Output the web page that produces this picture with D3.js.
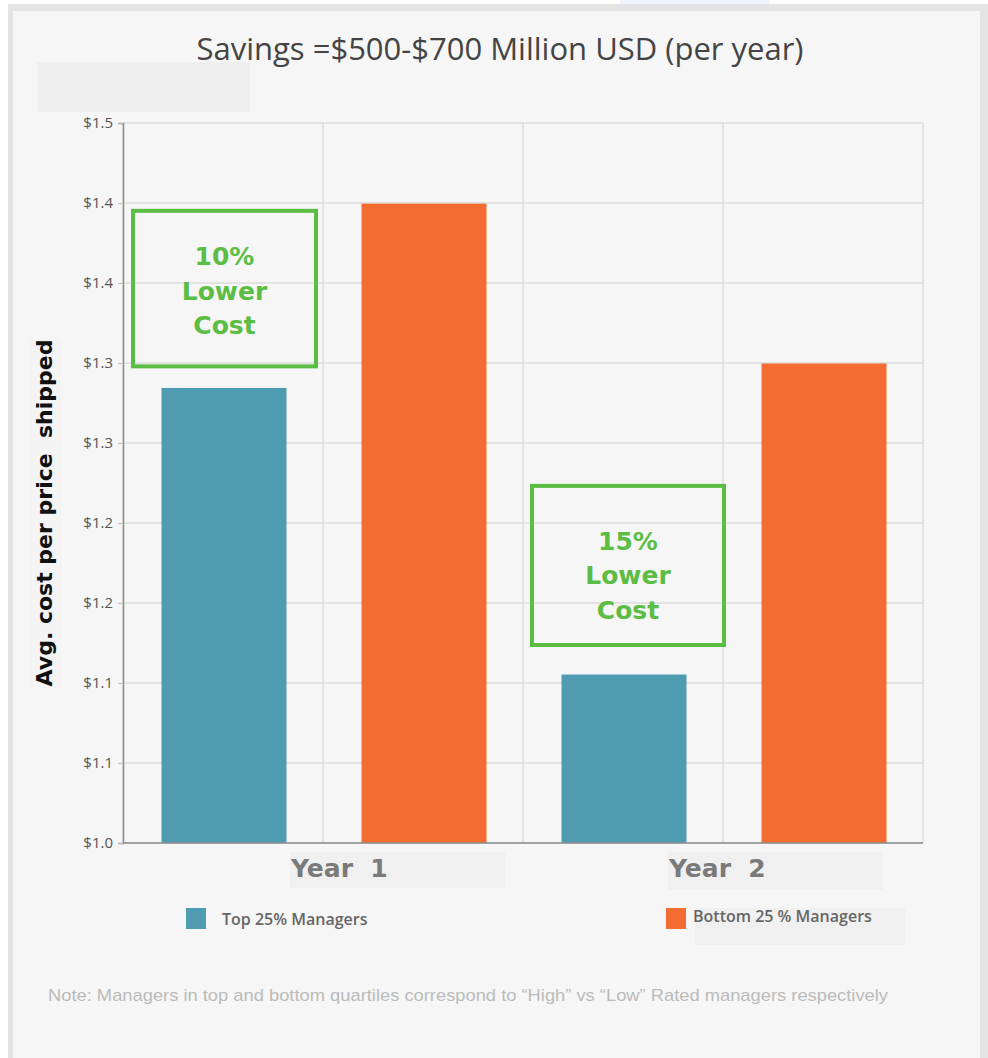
<!DOCTYPE html>
<html>
<head>
<meta charset="utf-8">
<script src="https://cdn.jsdelivr.net/npm/d3@7"></script>
<style>
  html, body { margin: 0; padding: 0; background: #ffffff; }
  svg { display: block; }
</style>
</head>
<body>
<div id="svganchor"></div>
<script>
// data
var years = ["Year 1", "Year 2"];
var groups = ["Top 25% Managers", "Bottom 25 % Managers"];
var topValues = [1.316, 1.117];
var bottomValues = [1.444, 1.333];
var tickValues = [1.0, 1.0556, 1.1111, 1.1667, 1.2222, 1.2778, 1.3333, 1.3889, 1.4444, 1.5];
var tickLabels = ["$1.0", "$1.1", "$1.1", "$1.2", "$1.2", "$1.3", "$1.3", "$1.4", "$1.4", "$1.5"];
var callouts = [["10%", "Lower", "Cost"], ["15%", "Lower", "Cost"]];

const width = 988;
const height = 1058;
const margin = { top: 123, left: 123, right: 65, bottom: 215 };
const teal = "#4f9cb2";
const orange = "#f36d33";
const green = "#5cbd45";

const svg = d3.select("#svganchor")
  .append("svg")
  .attr("width", width)
  .attr("height", height);

// frame + panel
svg.append("rect").attr("x", 8).attr("y", 4).attr("width", 980).attr("height", 1054).attr("fill", "#e4e4e4");
svg.append("rect").attr("x", 620).attr("y", 0).attr("width", 150).attr("height", 4).attr("fill", "#eef4fb");
svg.append("rect").attr("x", 13).attr("y", 11).attr("width", 967).attr("height", 1047).attr("fill", "#f6f6f6");

// leftover patches in the picture
svg.append("rect").attr("x", 37).attr("y", 62).attr("width", 213).attr("height", 50).attr("fill", "#efefef");
svg.append("rect").attr("x", 290).attr("y", 852).attr("width", 215).attr("height", 36).attr("fill", "#f0f0f0");
svg.append("rect").attr("x", 668).attr("y", 852).attr("width", 215).attr("height", 38).attr("fill", "#f0f0f0");
svg.append("rect").attr("x", 695).attr("y", 908).attr("width", 210).attr("height", 37).attr("fill", "#f0f0f0");
svg.append("rect").attr("x", 30).attr("y", 338).attr("width", 32).attr("height", 350).attr("fill", "#f4f4f4");

const plotW = width - margin.left - margin.right;
const plotH = height - margin.top - margin.bottom;

const x0 = d3.scaleBand().domain(years).range([margin.left, margin.left + plotW]).padding(0);
const x1 = d3.scaleBand().domain(groups).range([0, x0.bandwidth()]);
const barW = 125;
const y = d3.scaleLinear().domain([1.0, 1.5]).range([margin.top + plotH, margin.top]);

// title
svg.append("text")
  .attr("x", 500).attr("y", 60)
  .attr("text-anchor", "middle")
  .style("font-family", "'Open Sans', sans-serif")
  .style("font-size", "31px")
  .style("fill", "#444")
  .text("Savings =$500-$700 Million USD (per year)");

// horizontal grid
svg.append("g")
  .selectAll("line")
  .data(tickValues)
  .enter()
  .append("line")
  .attr("x1", margin.left).attr("x2", margin.left + plotW)
  .attr("y1", d => y(d)).attr("y2", d => y(d))
  .attr("stroke", "#dcdcdc").attr("stroke-width", 1.5);

// vertical grid at sub-band edges
var vLines = [];
years.forEach(function (yr) {
  groups.forEach(function (g) { vLines.push(x0(yr) + x1(g)); });
});
vLines.push(margin.left + plotW);
svg.append("g")
  .selectAll("line")
  .data(vLines)
  .enter()
  .append("line")
  .attr("x1", d => d).attr("x2", d => d)
  .attr("y1", margin.top).attr("y2", margin.top + plotH)
  .attr("stroke", "#dcdcdc").attr("stroke-width", 1.5);

// bars
var barData = [];
years.forEach(function (yr, i) {
  barData.push({ year: yr, group: groups[0], value: topValues[i], color: teal });
  barData.push({ year: yr, group: groups[1], value: bottomValues[i], color: orange });
});
svg.append("g")
  .selectAll("rect")
  .data(barData)
  .enter()
  .append("rect")
  .attr("x", d => x0(d.year) + x1(d.group) + (x1.bandwidth() - barW) / 2 + 1)
  .attr("y", d => y(d.value))
  .attr("width", barW)
  .attr("height", d => y(1.0) - y(d.value))
  .attr("fill", d => d.color);

// y axis
const yAxis = svg.append("g")
  .attr("transform", "translate(" + margin.left + ",0)")
  .call(d3.axisLeft(y).tickValues(tickValues).tickFormat((d, i) => tickLabels[i]).tickSize(5).tickPadding(5));
yAxis.select(".domain").attr("stroke", "#8c8c8c").attr("stroke-width", 1.5);
yAxis.selectAll(".tick line").attr("stroke", "#bbb");
yAxis.selectAll("text")
  .style("font-family", "'Open Sans', sans-serif")
  .style("font-size", "15px")
  .style("fill", "#555");

// x axis line
svg.append("line")
  .attr("x1", margin.left).attr("x2", margin.left + plotW)
  .attr("y1", y(1.0)).attr("y2", y(1.0))
  .attr("stroke", "#8c8c8c").attr("stroke-width", 1.5);

// year labels
var yearOffsets = [168, 146];
svg.append("g")
  .selectAll("text")
  .data(years)
  .enter()
  .append("text")
  .attr("x", (d, i) => x0(d) + yearOffsets[i])
  .attr("y", 877)
  .style("font-family", "'DejaVu Sans', sans-serif")
  .style("font-weight", "bold")
  .style("font-size", "25px")
  .style("fill", "#7a7a7a")
  .style("white-space", "pre")
  .text(d => d.replace(" ", "  "));

// callout boxes
var boxes = [
  { cx: 224.5, top: 1.439, bottom: 1.331, w: 183, shift: 11, lines: callouts[0] },
  { cx: 628, top: 1.248, bottom: 1.1375, w: 192, shift: 19, lines: callouts[1] }
];
boxes.forEach(function (b) {
  svg.append("rect")
    .attr("x", b.cx - b.w / 2)
    .attr("y", y(b.top))
    .attr("width", b.w)
    .attr("height", y(b.bottom) - y(b.top))
    .attr("fill", "none")
    .attr("stroke", green)
    .attr("stroke-width", 4);
  var midY = (y(b.top) + y(b.bottom)) / 2;
  svg.append("g")
    .selectAll("text")
    .data(b.lines)
    .enter()
    .append("text")
    .attr("x", b.cx)
    .attr("y", (d, i) => midY + (i - 1) * 34.5 + b.shift)
    .attr("text-anchor", "middle")
    .style("font-family", "'DejaVu Sans', sans-serif")
    .style("font-weight", "bold")
    .style("font-size", "25px")
    .style("fill", green)
    .text(d => d);
});

// y axis title
svg.append("text")
  .attr("transform", "translate(52,513) rotate(-90)")
  .attr("text-anchor", "middle")
  .style("font-family", "'DejaVu Sans', sans-serif")
  .style("font-weight", "bold")
  .style("font-size", "22px")
  .style("fill", "#111")
  .style("white-space", "pre")
  .text("Avg. cost per price  shipped");

// legend
var legend = [
  { label: groups[0], color: teal, sx: 186, sy: 908, tx: 222, ty: 925 },
  { label: groups[1], color: orange, sx: 666, sy: 908, tx: 693, ty: 922 }
];
legend.forEach(function (l) {
  svg.append("rect").attr("x", l.sx).attr("y", l.sy).attr("width", 20).attr("height", 21).attr("fill", l.color);
  svg.append("text")
    .attr("x", l.tx).attr("y", l.ty)
    .style("font-family", "'Open Sans', sans-serif")
    .style("font-weight", "600")
    .style("font-size", "16px")
    .style("fill", "#666")
    .text(l.label);
});

// note
svg.append("text")
  .attr("x", 48).attr("y", 1001)
  .attr("textLength", 840)
  .attr("lengthAdjust", "spacingAndGlyphs")
  .style("font-family", "'Liberation Sans Narrow', 'Liberation Sans', sans-serif")
  .style("font-size", "17px")
  .style("fill", "#bbb")
  .text("Note:  Managers in top and bottom quartiles correspond to \u201cHigh\u201d vs \u201cLow\u201d Rated managers respectively");
</script>
</body>
</html>
